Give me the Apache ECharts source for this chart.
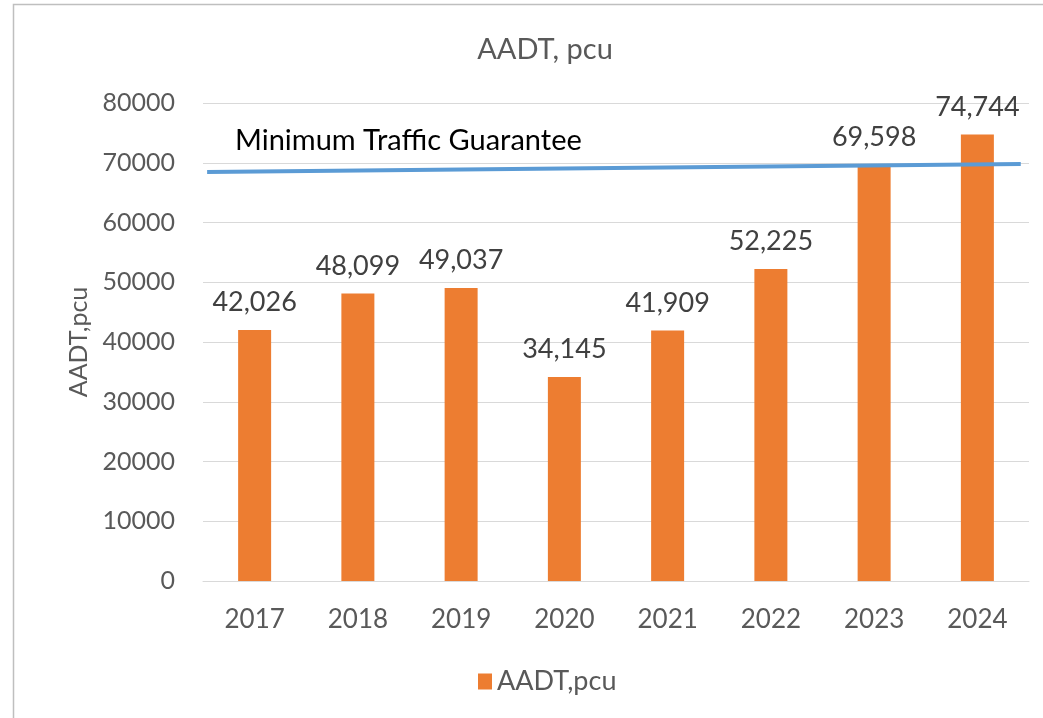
<!DOCTYPE html>
<html><head><meta charset="utf-8">
<script src="https://cdn.jsdelivr.net/npm/echarts@6/dist/echarts.min.js"></script>
<style>html,body{margin:0;padding:0;background:#fff}#c{width:1043px;height:718px}</style>
</head><body><div id="c"></div>
<script>
const years = ['2017','2018','2019','2020','2021','2022','2023','2024'];
const aadt = [42026, 48099, 49037, 34145, 41909, 52225, 69598, 74744];
const guaranteeX = [0.04, 7.92];
const guaranteeY = [68450, 69800];
const yTicks = {min: 0, max: 80000, interval: 10000};
const FONT = 'Lato';
const chart = echarts.init(document.getElementById('c'));
chart.setOption({
  backgroundColor: '#fff',
  animation: false,
  textStyle: {fontFamily: FONT},
  title: {text: 'AADT, pcu', left: 540, top: 30, textAlign: 'center',
    textStyle: {fontFamily: FONT, fontSize: 29, fontWeight: 'normal', color: '#595959'}},
  legend: {data: [{name: 'AADT,pcu', icon: 'rect'}], left: 478, top: 668, padding: 0,
    itemWidth: 14, itemHeight: 16, itemGap: 6,
    textStyle: {fontFamily: FONT, fontSize: 27, color: '#595959'}},
  grid: {left: 203, right: 14, top: 103, bottom: 137, containLabel: false},
  xAxis: [
    {type: 'category', data: years, axisTick: {show: false},
      axisLine: {lineStyle: {color: '#D9D9D9', width: 1}},
      axisLabel: {fontFamily: FONT, fontSize: 26, color: '#595959', margin: 26}},
    {type: 'value', min: 0, max: 8, show: false}
  ],
  yAxis: {type: 'value', min: yTicks.min, max: yTicks.max, interval: yTicks.interval,
    name: 'AADT,pcu', nameLocation: 'middle', nameGap: 112, nameRotate: 90,
    nameTextStyle: {fontFamily: FONT, fontSize: 25, color: '#595959'},
    axisLine: {show: false}, axisTick: {show: false},
    axisLabel: {fontFamily: FONT, fontSize: 25, color: '#595959', margin: 28, formatter: v => String(v)},
    splitLine: {lineStyle: {color: '#D9D9D9', width: 1}}},
  series: [
    {name: 'AADT,pcu', type: 'bar', data: aadt, barWidth: 33, xAxisIndex: 0,
      itemStyle: {color: '#ED7D31'},
      label: {show: true, position: 'top', distance: 14, fontFamily: FONT, fontSize: 27, color: '#404040',
        formatter: p => p.value.toLocaleString('en-US')}},
    {name: 'Minimum Traffic Guarantee', type: 'line', xAxisIndex: 1,
      data: guaranteeX.map((x, i) => [x, guaranteeY[i]]),
      symbol: 'none', lineStyle: {color: '#5B9BD5', width: 4}, z: 5}
  ],
  graphic: [
    {type: 'text', left: 235, top: 126, style: {text: 'Minimum Traffic Guarantee', fontFamily: FONT, fontSize: 29, fill: '#000'}},
    {type: 'polyline', shape: {points: [[13.5, 718], [13.5, 4.5], [1043, 4.5]]}, style: {stroke: '#BFBFBF', lineWidth: 1.5, fill: null}}
  ]
});
</script></body></html>
